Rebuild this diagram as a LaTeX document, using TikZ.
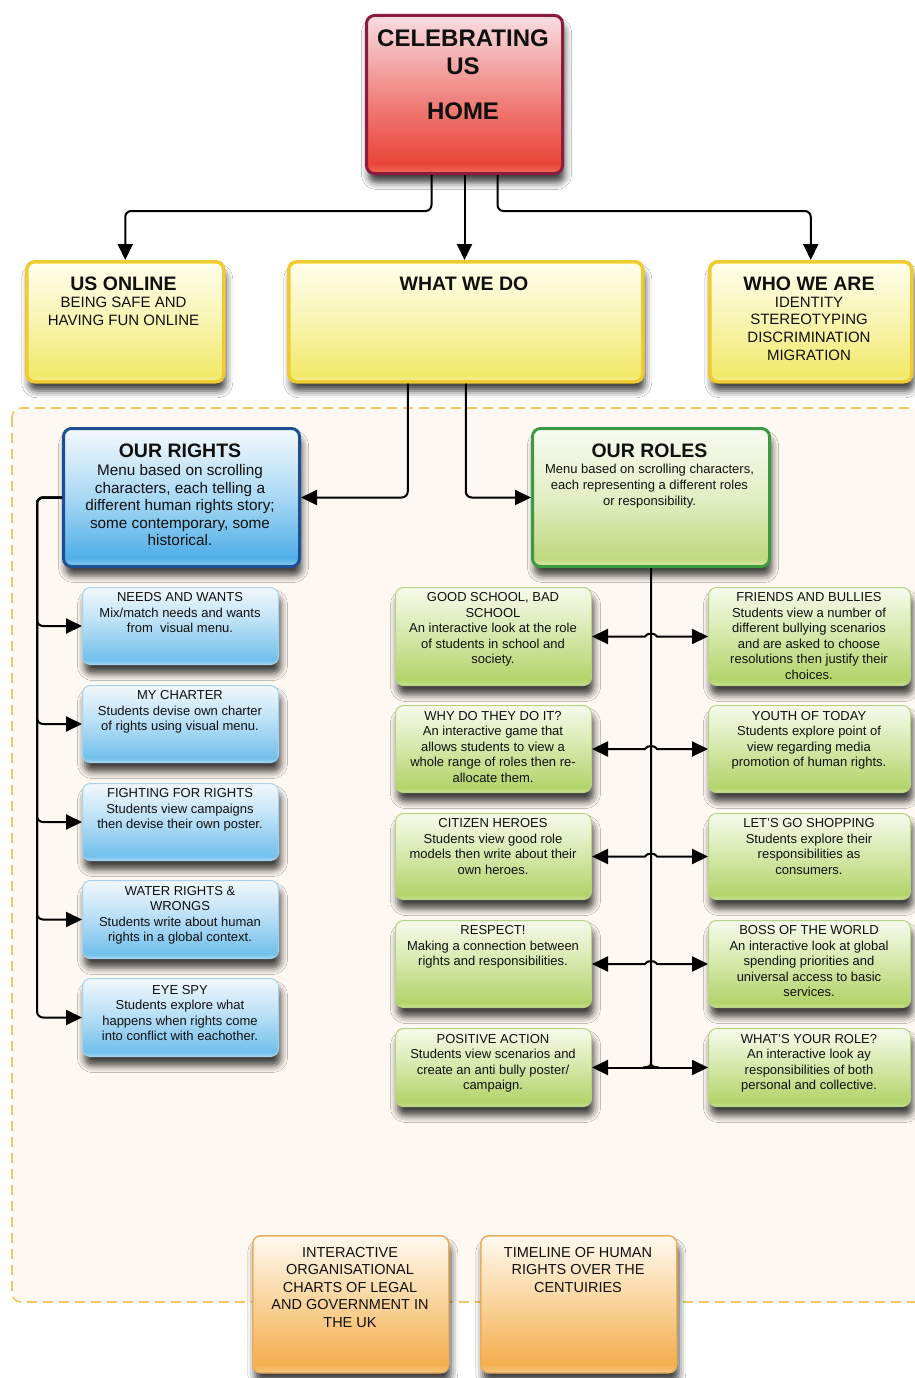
\documentclass[tikz,border=0pt]{standalone}
\usepackage{fontspec}
\setmainfont{Liberation Sans}
\usetikzlibrary{arrows.meta,shadows.blur}

\definecolor{txtc}{HTML}{101010}
\definecolor{regionfill}{HTML}{FDF8F1}
\definecolor{regiondash}{HTML}{F1C662}
% red
\definecolor{redA}{HTML}{EF6C5C}\definecolor{redB}{HTML}{EA4538}\definecolor{redC}{HTML}{EF7670}\definecolor{redD}{HTML}{F8DDE1}
\definecolor{redE}{HTML}{8C1B3E}
% yellow
\definecolor{yelA}{HTML}{F5EF98}\definecolor{yelB}{HTML}{F1E96A}\definecolor{yelC}{HTML}{F8F4B0}\definecolor{yelD}{HTML}{FFFFEE}
\definecolor{yelE}{HTML}{EFCB30}
% blue main
\definecolor{bluA}{HTML}{92CFF2}\definecolor{bluB}{HTML}{4FAEE6}\definecolor{bluC}{HTML}{A9D8F4}\definecolor{bluD}{HTML}{F4F9FD}
\definecolor{bluE}{HTML}{1F4F93}
% blue child
\definecolor{bcA}{HTML}{9ED5F3}\definecolor{bcB}{HTML}{72C0EC}\definecolor{bcC}{HTML}{C2E3F7}\definecolor{bcD}{HTML}{F2F8FC}
\definecolor{bcE}{HTML}{A6D2EC}
% green main
\definecolor{grA}{HTML}{D6E9A6}\definecolor{grB}{HTML}{BFD97F}\definecolor{grC}{HTML}{E2EEC4}\definecolor{grD}{HTML}{F8FBF1}
\definecolor{grE}{HTML}{3E9A40}
% green child
\definecolor{gcA}{HTML}{C8E18E}\definecolor{gcB}{HTML}{B2D46A}\definecolor{gcC}{HTML}{DCEBB6}\definecolor{gcD}{HTML}{F6FAEC}
\definecolor{gcE}{HTML}{B6D386}
% orange
\definecolor{orA}{HTML}{F8C880}\definecolor{orB}{HTML}{F5AE4E}\definecolor{orC}{HTML}{FADBAA}\definecolor{orD}{HTML}{FFF9F0}
\definecolor{orE}{HTML}{E8AE5E}

\pgfdeclareverticalshading{shRed}{100bp}{color(0bp)=(redA); color(25bp)=(redA); color(28bp)=(redB); color(45bp)=(redC); color(75bp)=(redD); color(100bp)=(redD)}
\pgfdeclareverticalshading{shYel}{100bp}{color(0bp)=(yelA); color(25bp)=(yelA); color(28bp)=(yelB); color(50bp)=(yelC); color(75bp)=(yelD); color(100bp)=(yelD)}
\pgfdeclareverticalshading{shBlu}{100bp}{color(0bp)=(bluA); color(25bp)=(bluA); color(28bp)=(bluB); color(50bp)=(bluC); color(75bp)=(bluD); color(100bp)=(bluD)}
\pgfdeclareverticalshading{shBc}{100bp}{color(0bp)=(bcA); color(25bp)=(bcA); color(28bp)=(bcB); color(55bp)=(bcC); color(75bp)=(bcD); color(100bp)=(bcD)}
\pgfdeclareverticalshading{shGr}{100bp}{color(0bp)=(grA); color(25bp)=(grA); color(28bp)=(grB); color(50bp)=(grC); color(75bp)=(grD); color(100bp)=(grD)}
\pgfdeclareverticalshading{shGc}{100bp}{color(0bp)=(gcA); color(25bp)=(gcA); color(28bp)=(gcB); color(55bp)=(gcC); color(75bp)=(gcD); color(100bp)=(gcD)}
\pgfdeclareverticalshading{shOr}{100bp}{color(0bp)=(orA); color(25bp)=(orA); color(28bp)=(orB); color(55bp)=(orC); color(75bp)=(orD); color(100bp)=(orD)}

\begin{document}
\begin{tikzpicture}[x=1pt,y=-1pt,
  boxbase/.style={rectangle, rounded corners=8pt, anchor=north west, inner sep=0pt, shade,
     blur shadow={shadow xshift=2pt, shadow yshift=-9pt, shadow blur radius=7pt, shadow opacity=75}},
  homebox/.style={boxbase, shading=shRed, draw=redE, line width=3pt},
  ybox/.style={boxbase, shading=shYel, draw=yelE, line width=3.5pt, minimum height=120pt},
  bmain/.style={boxbase, shading=shBlu, draw=bluE, line width=3pt},
  gmain/.style={boxbase, shading=shGr, draw=grE, line width=3pt},
  bchild/.style={boxbase, shading=shBc, draw=bcE, line width=1pt, minimum width=196pt},
  gchild/.style={boxbase, shading=shGc, draw=gcE, line width=1pt},
  obox/.style={boxbase, shading=shOr, draw=orE, line width=1.5pt, minimum width=196pt, minimum height=137pt},
  region/.style={fill=regionfill, draw=regiondash, line width=1.6pt, dash pattern=on 10pt off 6pt, rounded corners=9pt},
  conn/.style={draw=black, line width=2pt, rounded corners=6pt, -{Triangle[length=16pt,width=15pt]}},
  dconn/.style={draw=black, line width=2pt, {Triangle[length=16pt,width=15pt]}-{Triangle[length=16pt,width=15pt]}},
  trunk/.style={draw=black, line width=2pt},
  txt/.style={align=center, inner sep=0pt, text=txtc, anchor=north},
  fhome/.style={font=\bfseries\fontsize{24}{28}\selectfont},
  ftitle/.style={font=\bfseries\fontsize{19.5}{23}\selectfont},
  fysub/.style={font=\fontsize{15}{17.6}\selectfont},
  frbody/.style={font=\fontsize{15.3}{17.5}\selectfont},
  fgbody/.style={font=\fontsize{13}{16}\selectfont},
  fsmall/.style={font=\fontsize{13}{15.5}\selectfont},
  forange/.style={font=\fontsize{14.5}{17.5}\selectfont}
]
\fill[white] (0,0) rectangle (915,1378);
\useasboundingbox (0,0) rectangle (915,1378);
\draw[region] (12,408) rectangle (945,1302);

% ---------- boxes ----------
\node[homebox, minimum width=196pt, minimum height=158pt] (home) at (365,14) {};
\node[ybox, minimum width=197pt] (uso) at (25,260) {};
\node[ybox, minimum width=354pt] (wwd) at (287,260) {};
\node[ybox, minimum width=202pt] (who) at (708,260) {};
\node[bmain, minimum width=236pt, minimum height=138pt] (rights) at (62,427) {};
\node[gmain, minimum width=237pt, minimum height=138pt] (roles) at (531,427) {};

\node[bchild, minimum height=77pt] (b1) at (82,587) {};
\node[bchild, minimum height=77pt] (b2) at (82,685) {};
\node[bchild, minimum height=77pt] (b3) at (82,783) {};
\node[bchild, minimum height=78pt] (b4) at (82,880) {};
\node[bchild, minimum height=78pt] (b5) at (82,978) {};

\node[gchild, minimum width=196pt, minimum height=98pt] (gl1) at (395,587) {};
\node[gchild, minimum width=196pt, minimum height=87pt] (gl2) at (395,705) {};
\node[gchild, minimum width=196pt, minimum height=86pt] (gl3) at (395,813) {};
\node[gchild, minimum width=196pt, minimum height=87pt] (gl4) at (395,920) {};
\node[gchild, minimum width=196pt, minimum height=78pt] (gl5) at (395,1028) {};

\node[gchild, minimum width=202pt, minimum height=98pt] (gr1) at (708,587) {};
\node[gchild, minimum width=202pt, minimum height=87pt] (gr2) at (708,705) {};
\node[gchild, minimum width=202pt, minimum height=86pt] (gr3) at (708,813) {};
\node[gchild, minimum width=202pt, minimum height=87pt] (gr4) at (708,920) {};
\node[gchild, minimum width=202pt, minimum height=78pt] (gr5) at (708,1028) {};

\node[obox] (org) at (252,1235) {};
\node[obox] (time) at (480,1235) {};

% ---------- connectors ----------
\draw[conn] ([xshift=-33pt]home.south) -- ++(0,36) -| (uso.north);
\draw[conn] (home.south) -- (home.south |- wwd.north);
\draw[conn] ([xshift=33pt]home.south) -- ++(0,36) -| (who.north);

\draw[conn] ([xshift=-58pt]wwd.south) |- (rights.east);
\draw[conn] (wwd.south) |- (roles.west);

\foreach \b in {b1,b2,b3,b4,b5}
  \draw[conn] (rights.west) -- ++(-25,0) |- (\b.west);

\coordinate (t1) at (roles.south |- gl1.east);
\coordinate (t2) at (roles.south |- gl2.east);
\coordinate (t3) at (roles.south |- gl3.east);
\coordinate (t4) at (roles.south |- gl4.east);
\coordinate (t5) at (roles.south |- gl5.east);

\draw[trunk] (roles.south) -- ([yshift=7pt]t5)
   .. controls ([yshift=1pt]t5) .. ([xshift=-8pt]t5);
\draw[trunk] ([yshift=7pt]t5) .. controls ([yshift=1pt]t5) .. ([xshift=8pt]t5);

\foreach \i in {1,2,3,4}
  \draw[dconn] (gl\i.east) -- ([xshift=-6pt]t\i)
     .. controls ([xshift=-4pt,yshift=4pt]t\i) and ([xshift=4pt,yshift=4pt]t\i) .. ([xshift=6pt]t\i)
     -- (gr\i.west);
\draw[dconn] (gl5.east) -- (gr5.west);

% ---------- texts ----------
\node[txt, fhome] (homeT) at (463,29.4) {CELEBRATING\\US\\[17pt]HOME};

\node[txt, ftitle] (usoT) at (123.5,277) {US ONLINE};
\node[txt, fysub] (usoS) at (123.5,296.8) {BEING SAFE AND\\HAVING FUN ONLINE};
\node[txt, ftitle] (wwdT) at (464,277) {WHAT WE DO};
\node[txt, ftitle] (whoT) at (809,277) {WHO WE ARE};
\node[txt, fysub] (whoS) at (809,296.8) {IDENTITY\\STEREOTYPING\\DISCRIMINATION\\MIGRATION};

\node[txt, ftitle] (rightsT) at (180,444) {OUR RIGHTS};
\node[txt, frbody] (rightsS) at (180,464.5) {Menu based on scrolling\\characters, each telling a\\different human rights story;\\some contemporary, some\\historical.};
\node[txt, ftitle] (rolesT) at (649.5,444) {OUR ROLES};
\node[txt, fgbody] (rolesS) at (649.5,464.3) {Menu based on scrolling characters,\\each representing a different roles\\or responsibility.};

\node[txt, fsmall] at (180,592.3) {NEEDS AND WANTS\\Mix/match needs and wants\\from \ visual menu.};
\node[txt, fsmall] at (180,690.3) {MY CHARTER\\Students devise own charter\\of rights using visual menu.};
\node[txt, fsmall] at (180,788.3) {FIGHTING FOR RIGHTS\\Students view campaigns\\then devise their own poster.};
\node[txt, fsmall] at (180,886) {WATER RIGHTS \&\\WRONGS\\Students write about human\\rights in a global context.};
\node[txt, fsmall] at (180,985) {EYE SPY\\Students explore what\\happens when rights come\\into conflict with eachother.};

\node[txt, fsmall] at (493,592.3) {GOOD SCHOOL, BAD\\SCHOOL\\An interactive look at the role\\of students in school and\\society.};
\node[txt, fsmall] at (493,711) {WHY DO THEY DO IT?\\An interactive game that\\allows students to view a\\whole range of roles then re-\\allocate them.};
\node[txt, fsmall] at (493,818.3) {CITIZEN HEROES\\Students view good role\\models then write about their\\own heroes.};
\node[txt, fsmall] at (493,925.3) {RESPECT!\\Making a connection between\\rights and responsibilities.};
\node[txt, fsmall] at (493,1034) {POSITIVE ACTION\\Students view scenarios and\\create an anti bully poster/\\campaign.};

\node[txt, fsmall] at (809,592.3) {FRIENDS AND BULLIES\\Students view a number of\\different bullying scenarios\\and are asked to choose\\resolutions then justify their\\choices.};
\node[txt, fsmall] at (809,711) {YOUTH OF TODAY\\Students explore point of\\view regarding media\\promotion of human rights.};
\node[txt, fsmall] at (809,818.3) {LET'S GO SHOPPING\\Students explore their\\responsibilities as\\consumers.};
\node[txt, fsmall] at (809,925.3) {BOSS OF THE WORLD\\An interactive look at global\\spending priorities and\\universal access to basic\\services.};
\node[txt, fsmall] at (809,1034) {WHAT'S YOUR ROLE?\\An interactive look ay\\responsibilities of both\\personal and collective.};

\node[txt, forange] at (350,1246.8) {INTERACTIVE\\ORGANISATIONAL\\CHARTS OF LEGAL\\AND GOVERNMENT IN\\THE UK};
\node[txt, forange] at (578,1246.8) {TIMELINE OF HUMAN\\RIGHTS OVER THE\\CENTUIRIES};
\end{tikzpicture}
\end{document}
